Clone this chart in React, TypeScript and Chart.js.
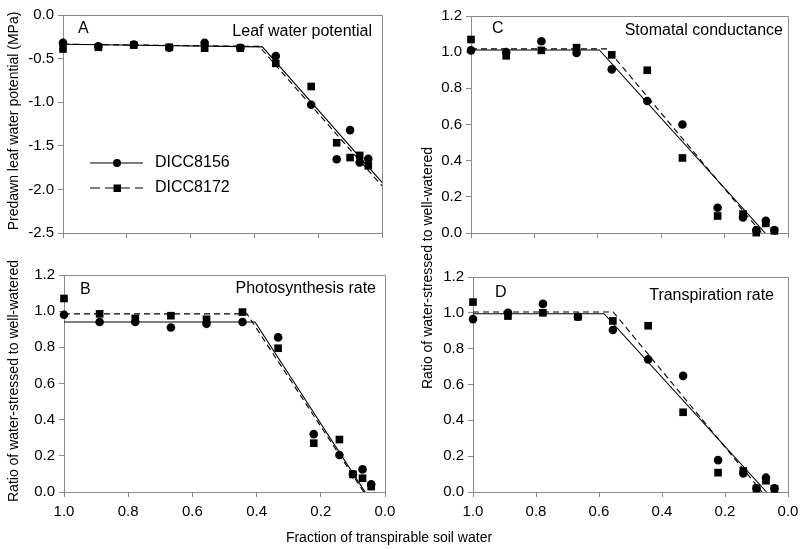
import React, { useEffect, useRef } from 'react';
import { Chart, registerables } from 'chart.js';

Chart.register(...registerables);

const W = 800;
const H = 549;
const FONT = "'Liberation Sans', Arial, sans-serif";
const AX = '#8a8a8a';

// Fraction of transpirable soil water (x values shared by all panels)
const FTSW = [1.0, 0.889, 0.778, 0.667, 0.556, 0.444, 0.333, 0.222, 0.142, 0.1, 0.07, 0.043];

// A: predawn leaf water potential (MPa)
const lwp8156 = [-0.32, -0.36, -0.34, -0.375, -0.32, -0.375, -0.47, -1.03, -1.655, -1.32, -1.69, -1.65];
const lwp8172 = [-0.39, -0.37, -0.345, -0.37, -0.38, -0.38, -0.555, -0.82, -1.465, -1.635, -1.61, -1.73];
const lwpFitX8156 = [1.0, 0.375, 0.0];
const lwpFitY8156 = [-0.335, -0.365, -1.92];
const lwpFitX8172 = [1.0, 0.385, 0.0];
const lwpFitY8172 = [-0.335, -0.36, -1.96];

// B: photosynthesis rate (ratio)
const pn8156 = [0.98, 0.94, 0.94, 0.91, 0.93, 0.94, 0.855, 0.32, 0.205, 0.098, 0.125, 0.042];
const pn8172 = [1.07, 0.985, 0.96, 0.975, 0.955, 0.995, 0.795, 0.27, 0.29, 0.098, 0.076, 0.03];
const pnFitX8156 = [1.0, 0.405, 0.062];
const pnFitY8156 = [0.94, 0.94, 0.0];
const pnFitX8172 = [1.0, 0.43, 0.066];
const pnFitY8172 = [0.985, 0.985, 0.0];

// C: stomatal conductance (ratio)
const gs8156 = [1.01, 1.0, 1.06, 0.995, 0.905, 0.73, 0.6, 0.14, 0.086, 0.016, 0.068, 0.016];
const gs8172 = [1.07, 0.98, 1.01, 1.025, 0.985, 0.9, 0.415, 0.094, 0.105, 0.002, 0.053, 0.012];
const gsFitX8156 = [1.0, 0.595, 0.072];
const gsFitY8156 = [1.012, 1.012, 0.0];
const gsFitX8172 = [1.0, 0.57, 0.083];
const gsFitY8172 = [1.018, 1.018, 0.0];

// D: transpiration rate (ratio)
const tr8156 = [0.965, 1.0, 1.05, 0.978, 0.904, 0.74, 0.648, 0.178, 0.104, 0.021, 0.08, 0.021];
const tr8172 = [1.06, 0.982, 1.0, 0.978, 0.955, 0.928, 0.445, 0.108, 0.117, 0.02, 0.063, 0.018];
const trFitX8156 = [1.0, 0.584, 0.068];
const trFitY8156 = [0.995, 0.995, 0.0];
const trFitX8172 = [1.0, 0.555, 0.082];
const trFitY8172 = [1.005, 1.005, 0.0];

const SERIES = ['DICC8156', 'DICC8172'];
const X_TICKS = [0, 0.2, 0.4, 0.6, 0.8, 1.0];

type Panel = {
  letter: string;
  title: string;
  yMin: number;
  yMax: number;
  yStep: number;
  showX: boolean;
  s1: number[];
  s2: number[];
  fx1: number[];
  fy1: number[];
  fx2: number[];
  fy2: number[];
  rect: { l: number; t: number; r: number; b: number };
  letterAt: [number, number];
  titleAt: [number, number];
  legend: boolean;
};

const PANELS: Panel[] = [
  {
    letter: 'A', title: 'Leaf water potential', yMin: -2.5, yMax: 0, yStep: 0.5, showX: false,
    s1: lwp8156, s2: lwp8172, fx1: lwpFitX8156, fy1: lwpFitY8156, fx2: lwpFitX8172, fy2: lwpFitY8172,
    rect: { l: 63, t: 15, r: 382, b: 233 }, letterAt: [78, 29], titleAt: [372, 32], legend: true,
  },
  {
    letter: 'C', title: 'Stomatal conductance', yMin: 0, yMax: 1.2, yStep: 0.2, showX: false,
    s1: gs8156, s2: gs8172, fx1: gsFitX8156, fy1: gsFitY8156, fx2: gsFitX8172, fy2: gsFitY8172,
    rect: { l: 471, t: 16, r: 788, b: 233 }, letterAt: [492, 29], titleAt: [783, 31], legend: false,
  },
  {
    letter: 'B', title: 'Photosynthesis rate', yMin: 0, yMax: 1.2, yStep: 0.2, showX: true,
    s1: pn8156, s2: pn8172, fx1: pnFitX8156, fy1: pnFitY8156, fx2: pnFitX8172, fy2: pnFitY8172,
    rect: { l: 64, t: 275, r: 385, b: 492 }, letterAt: [80, 290], titleAt: [376, 289], legend: false,
  },
  {
    letter: 'D', title: 'Transpiration rate', yMin: 0, yMax: 1.2, yStep: 0.2, showX: true,
    s1: tr8156, s2: tr8172, fx1: trFitX8156, fy1: trFitY8156, fx2: trFitX8172, fy2: trFitY8172,
    rect: { l: 473, t: 277, r: 788, b: 492 }, letterAt: [495, 293], titleAt: [774, 296], legend: false,
  },
];

const Y_W = 50;
const X_H = 30;

function PanelChart({ p }: { p: Panel }) {
  const ref = useRef<HTMLCanvasElement | null>(null);
  useEffect(() => {
    if (!ref.current) return;
    const pts = (ys: number[]) => ys.map((y, i) => ({ x: FTSW[i], y }));
    const fit = (xs: number[], ys: number[]) => xs.map((x, i) => ({ x, y: ys[i] }));

    const decor = {
      id: 'decor' + p.letter,
      afterDraw(chart: any) {
        const ctx = chart.ctx;
        const a = chart.chartArea;
        ctx.save();
        ctx.strokeStyle = AX;
        ctx.lineWidth = 1;
        ctx.setLineDash([]);
        ctx.beginPath();
        ctx.moveTo(Math.round(a.left), Math.round(a.top) + 0.5);
        ctx.lineTo(Math.round(a.right) + 0.5, Math.round(a.top) + 0.5);
        ctx.lineTo(Math.round(a.right) + 0.5, Math.round(a.bottom));
        ctx.stroke();

        ctx.fillStyle = '#000';
        ctx.font = `16px ${FONT}`;
        ctx.textBaseline = 'middle';
        ctx.textAlign = 'left';
        ctx.fillText(p.letter, p.letterAt[0], p.letterAt[1]);
        ctx.textAlign = 'right';
        ctx.fillText(p.title, p.titleAt[0], p.titleAt[1]);

        if (p.legend) {
          const rows = [
            { y: 163, dash: [] as number[], label: SERIES[0], marker: 'circle' },
            { y: 188, dash: [10, 5], label: SERIES[1], marker: 'rect' },
          ];
          for (const r of rows) {
            ctx.strokeStyle = '#000';
            ctx.lineWidth = 1.2;
            ctx.setLineDash(r.dash);
            ctx.beginPath();
            ctx.moveTo(90, r.y);
            ctx.lineTo(143, r.y);
            ctx.stroke();
            ctx.setLineDash([]);
            ctx.fillStyle = '#000';
            ctx.beginPath();
            if (r.marker === 'circle') {
              ctx.arc(117, r.y, 4, 0, Math.PI * 2);
            } else {
              ctx.rect(113.5, r.y - 3.5, 7.5, 7.5);
            }
            ctx.fill();
            ctx.font = `16px ${FONT}`;
            ctx.textAlign = 'left';
            ctx.textBaseline = 'middle';
            ctx.fillText(r.label, 155, r.y);
          }
        }
        ctx.restore();
      },
    };

    const chart = new Chart(ref.current, {
      type: 'scatter',
      data: {
        datasets: [
          {
            label: SERIES[0],
            data: pts(p.s1),
            pointStyle: 'circle',
            pointRadius: 4.3,
            backgroundColor: '#000',
            borderColor: '#000',
            borderWidth: 0,
            showLine: false,
            clip: false,
          } as any,
          {
            label: SERIES[1],
            data: pts(p.s2),
            pointStyle: 'rect',
            pointRadius: 5.4,
            backgroundColor: '#000',
            borderColor: '#000',
            borderWidth: 0,
            showLine: false,
            clip: false,
          } as any,
          {
            label: SERIES[0] + ' fit',
            data: fit(p.fx1, p.fy1),
            showLine: true,
            pointRadius: 0,
            borderColor: '#000',
            borderWidth: 1.1,
            fill: false,
            tension: 0,
          } as any,
          {
            label: SERIES[1] + ' fit',
            data: fit(p.fx2, p.fy2),
            showLine: true,
            pointRadius: 0,
            borderColor: '#000',
            borderWidth: 1.1,
            borderDash: [6, 4],
            fill: false,
            tension: 0,
          } as any,
        ],
      },
      options: {
        responsive: false,
        animation: false,
        devicePixelRatio: 1,
        events: [],
        layout: {
          padding: {
            left: p.rect.l - Y_W,
            top: p.rect.t,
            right: W - p.rect.r,
            bottom: H - p.rect.b - X_H,
          },
        },
        plugins: {
          legend: { display: false },
          tooltip: { enabled: false },
          title: { display: false },
        },
        scales: {
          x: {
            type: 'linear',
            min: 0,
            max: 1,
            reverse: true,
            afterBuildTicks: (s: any) => {
              s.ticks = X_TICKS.map((v) => ({ value: v }));
            },
            afterFit: (s: any) => {
              s.height = X_H;
            },
            ticks: {
              autoSkip: false,
              maxRotation: 0,
              padding: 6,
              color: '#000',
              font: { family: FONT, size: 15 },
              callback: (v: any) => (p.showX ? Number(v).toFixed(1) : ''),
            },
            grid: { drawOnChartArea: false, drawTicks: true, tickLength: 5, color: AX },
            border: { display: true, color: AX, width: 1 },
          },
          y: {
            type: 'linear',
            min: p.yMin,
            max: p.yMax,
            afterFit: (s: any) => {
              s.width = Y_W;
            },
            ticks: {
              stepSize: p.yStep,
              padding: 4,
              color: '#000',
              font: { family: FONT, size: 15 },
              callback: (v: any) => Number(v).toFixed(1),
            },
            grid: { drawOnChartArea: false, drawTicks: true, tickLength: 5, color: AX },
            border: { display: true, color: AX, width: 1 },
          },
        },
      } as any,
      plugins: [decor],
    });
    return () => chart.destroy();
  }, [p]);

  return (
    <canvas
      ref={ref}
      width={W}
      height={H}
      style={{ position: 'absolute', left: 0, top: 0, width: W, height: H }}
    />
  );
}

const titleStyle: React.CSSProperties = {
  position: 'absolute',
  whiteSpace: 'nowrap',
  fontFamily: FONT,
  fontSize: 14,
  color: '#000',
  lineHeight: '16px',
};

function VTitle({ text, cx, cy }: { text: string; cx: number; cy: number }) {
  return (
    <div
      style={{
        ...titleStyle,
        left: cx,
        top: cy,
        transform: 'translate(-50%, -50%) rotate(-90deg)',
      }}
    >
      {text}
    </div>
  );
}

export default function App() {
  return (
    <div
      style={{
        position: 'fixed',
        left: 0,
        top: 0,
        width: W,
        height: H,
        background: '#fff',
        overflow: 'hidden',
      }}
    >
      {PANELS.map((p) => (
        <PanelChart key={p.letter} p={p} />
      ))}
      <VTitle text="Predawn leaf water potential (MPa)" cx={13} cy={121} />
      <VTitle text="Ratio of water-stressed to well-watered" cx={13} cy={381} />
      <VTitle text="Ratio of water-stressed to well-watered" cx={427} cy={268} />
      <div
        style={{
          ...titleStyle,
          left: 389,
          top: 537,
          transform: 'translate(-50%, -50%)',
        }}
      >
        Fraction of transpirable soil water
      </div>
    </div>
  );
}
